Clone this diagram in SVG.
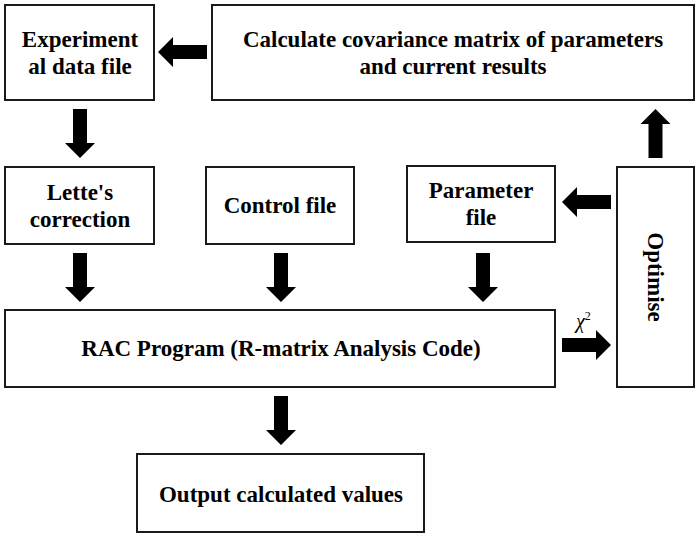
<svg xmlns="http://www.w3.org/2000/svg" xmlns:xlink="http://www.w3.org/1999/xlink" width="700" height="536" viewBox="0 0 700 536">
<style>
.box{fill:#fff;stroke:#1a1a1a;stroke-width:2}
.t{font-family:"Liberation Serif","Times New Roman",serif;font-weight:bold;font-size:23px;fill:#000;text-anchor:middle}
.arr{fill:#000}
</style>
<defs>
<path id="arrow" d="M-7,-49 H7 V-15 H15 L0,0 L-15,-15 H-7 Z"/>
</defs>
<rect width="700" height="536" fill="#fff"/>
<g id="exp"><rect class="box" x="5" y="5" width="149" height="95"/><text class="t" x="80" y="47">Experiment</text><text class="t" x="80" y="74">al data file</text></g>
<g id="calc"><rect class="box" x="212" y="5" width="482" height="95"/><text class="t" x="453" y="47">Calculate covariance matrix of parameters</text><text class="t" x="453" y="74">and current results</text></g>
<g id="lette"><rect class="box" x="5" y="167" width="149" height="77"/><text class="t" x="80" y="200">Lette's</text><text class="t" x="80" y="227">correction</text></g>
<g id="control"><rect class="box" x="206" y="167" width="148" height="77"/><text class="t" x="280" y="213">Control file</text></g>
<g id="param"><rect class="box" x="407" y="166" width="148" height="76"/><text class="t" x="481" y="198">Parameter</text><text class="t" x="481" y="225">file</text></g>
<g id="optimise"><rect class="box" x="617" y="167" width="77" height="220"/><text class="t" transform="translate(648,277) rotate(90)" x="0" y="0">Optimise</text></g>
<g id="rac"><rect class="box" x="5" y="310" width="550" height="77"/><text class="t" x="281" y="356">RAC Program (R-matrix Analysis Code)</text></g>
<g id="output"><rect class="box" x="137" y="454" width="287" height="78"/><text class="t" x="281" y="502">Output calculated values</text></g>
<g id="connectors" class="arr">
<use xlink:href="#arrow" transform="translate(80,158)"/>
<use xlink:href="#arrow" transform="translate(80,302)"/>
<use xlink:href="#arrow" transform="translate(281,302)"/>
<use xlink:href="#arrow" transform="translate(483,302)"/>
<use xlink:href="#arrow" transform="translate(281,445)"/>
<use xlink:href="#arrow" transform="translate(655.5,109) rotate(180)"/>
<use xlink:href="#arrow" transform="translate(158,52) rotate(90)"/>
<use xlink:href="#arrow" transform="translate(562,202) rotate(90)"/>
<use xlink:href="#arrow" transform="translate(611,345) rotate(-90)"/>
<text x="576" y="328" font-family="Liberation Serif,serif" font-style="italic" font-size="20" fill="#000">χ<tspan font-size="12" font-style="normal" dy="-8">2</tspan></text>
</g>
</svg>
